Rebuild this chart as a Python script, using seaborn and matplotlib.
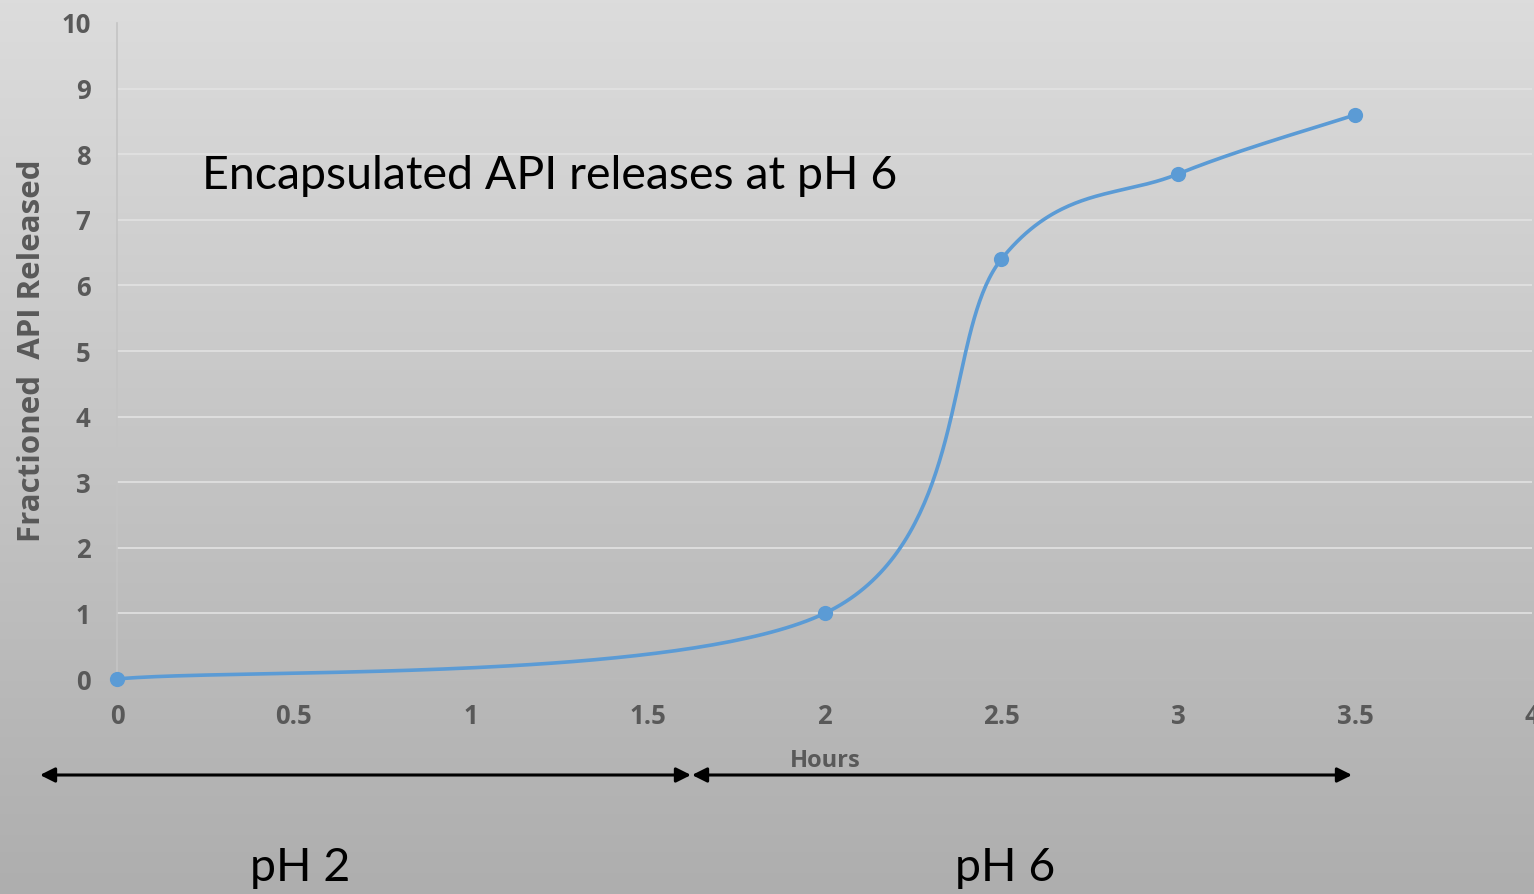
import numpy as np
import pandas as pd
import matplotlib
matplotlib.use("Agg")
import matplotlib.pyplot as plt
import seaborn as sns

hours = [0, 2, 2.5, 3, 3.5]
released = [0, 1, 6.4, 7.7, 8.6]
x_ticks = [0, 0.5, 1, 1.5, 2, 2.5, 3, 3.5, 4]
x_tick_labels = ["0", "0.5", "1", "1.5", "2", "2.5", "3", "3.5", "4"]
y_ticks = list(range(0, 11))
title_text = "Encapsulated API releases at pH 6"
ylabel = "Fractioned  API Released"
xlabel = "Hours"
phase_labels = ["pH 2", "pH 6"]

sns.set_theme(style="white")
plt.rcParams['font.family'] = ['Lato', 'DejaVu Sans']
BOLD = ['Open Sans', 'DejaVu Sans']

W, H = 1534, 894
fig = plt.figure(figsize=(W / 100, H / 100), dpi=100)

# background gradient
bg = fig.add_axes([0, 0, 1, 1], zorder=-10)
grad = np.linspace(0, 1, 256)[:, None]
top = np.array([220, 220, 220]) / 255
bot = np.array([174, 174, 174]) / 255
img = top[None, None, :] * (1 - grad[..., None]) + bot[None, None, :] * grad[..., None]
bg.imshow(np.repeat(img, 2, axis=1), aspect="auto", extent=[0, 1, 0, 1])
bg.axis("off")

x0, x1 = 117, 1532
y0, y1 = 679, 23
ax = fig.add_axes([x0 / W, 1 - y0 / H, (x1 - x0) / W, (y0 - y1) / H])
ax.patch.set_alpha(0)

# Excel-style smoothed line (Bezier via Catmull-Rom tangents)
P = np.column_stack([hours, released]).astype(float)
n = len(P)
xs, ys = [], []
t = np.linspace(0, 1, 80)
for i in range(n - 1):
    pm = P[i - 1] if i > 0 else P[i]
    pp = P[i + 2] if i + 2 < n else P[i + 1]
    b0 = P[i]
    b3 = P[i + 1]
    b1 = b0 + (b3 - pm) / 6
    b2 = b3 - (pp - b0) / 6
    c = ((1 - t) ** 3)[:, None] * b0 + (3 * (1 - t) ** 2 * t)[:, None] * b1 + \
        (3 * (1 - t) * t ** 2)[:, None] * b2 + (t ** 3)[:, None] * b3
    xs.extend(c[:, 0]); ys.extend(c[:, 1])
ax.plot(xs, ys, color="#5B9BD5", lw=2.6, zorder=3, solid_capstyle="round",
        clip_on=False)
sns.scatterplot(x=hours, y=released, ax=ax, color="#5B9BD5", s=120,
                edgecolor="#5B9BD5", linewidth=0, zorder=4, clip_on=False)

ax.set_xlim(0, 4)
ax.set_ylim(0, 10)
ax.set_yticks(y_ticks)
ax.set_xticks(x_ticks)
ax.set_xticklabels(x_tick_labels)
for yv in y_ticks[1:-1]:
    ax.axhline(yv, color="#e2e2e2", lw=1.2, zorder=1)
ax.axhline(0, color="#cccccc", lw=0.8, zorder=1)
for s in ["top", "right", "bottom"]:
    ax.spines[s].set_visible(False)
ax.spines["left"].set_color("#c4c4c4")
ax.spines["left"].set_linewidth(1.2)
ax.tick_params(axis="both", length=0, labelcolor="#595959")
ax.tick_params(axis="y", pad=19)
ax.tick_params(axis="x", pad=17)
for lab in ax.get_xticklabels() + ax.get_yticklabels():
    lab.set_fontweight("bold")
    lab.set_family(BOLD)
    lab.set_fontsize(18.5)
ax.set_xlabel("")
ax.set_ylabel("")

fig.text(32 / W, 1 - 351 / H, ylabel, rotation=90, ha="center", va="center",
         fontsize=22.5, fontweight="bold", color="#595959", family=BOLD)
fig.text(825 / W, 1 - 761 / H, xlabel, ha="center", va="center",
         fontsize=17, fontweight="bold", color="#595959", family=BOLD)
fig.text(202 / W, 1 - 176 / H, title_text, ha="left", va="center",
         fontsize=33.5, color="black")
fig.text(300 / W, 1 - 868 / H, phase_labels[0], ha="center", va="center",
         fontsize=33.5, color="black")
fig.text(1005 / W, 1 - 868 / H, phase_labels[1], ha="center", va="center",
         fontsize=33.5, color="black")

ay = 1 - 775 / H
arrow_kw = dict(arrowstyle="<|-|>", color="black", lw=2.2, mutation_scale=22,
                shrinkA=0, shrinkB=0)
fig.add_artist(matplotlib.patches.FancyArrowPatch((40 / W, ay), (691 / W, ay),
               transform=fig.transFigure, **arrow_kw))
fig.add_artist(matplotlib.patches.FancyArrowPatch((692 / W, ay), (1352 / W, ay),
               transform=fig.transFigure, **arrow_kw))

fig.savefig("out.png", dpi=100)
